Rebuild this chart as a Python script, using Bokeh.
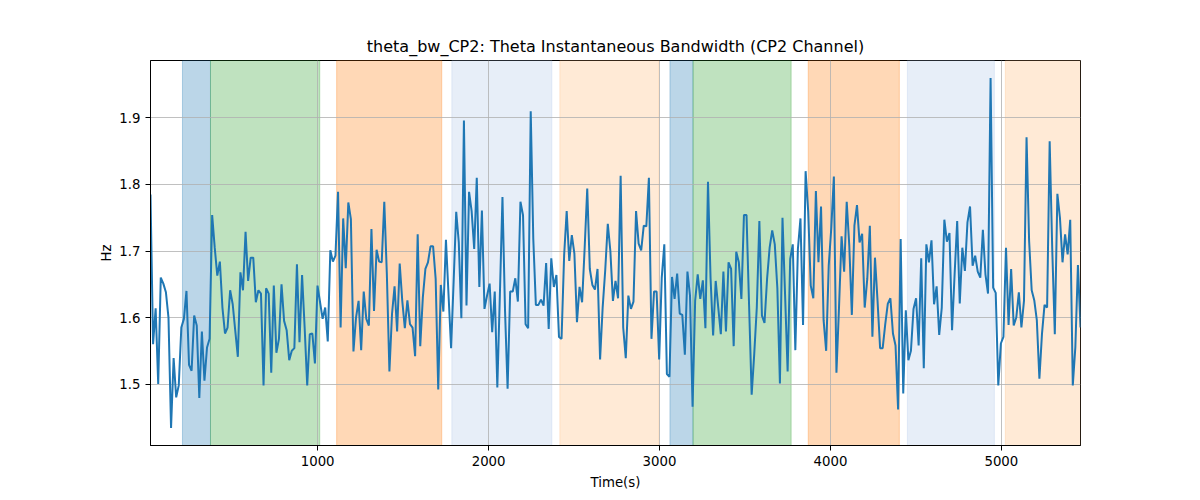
import numpy as np
from bokeh.plotting import figure
from bokeh.models import BoxAnnotation, FixedTicker
from bokeh.embed import file_html
from bokeh.resources import INLINE

# ---- data ----
t_start = 22.0
t_step = 15.03

bw_values = [
    1.785, 1.56, 1.614, 1.50, 1.66, 1.651, 1.638, 1.60, 1.434, 1.539,
    1.48, 1.498, 1.585, 1.598, 1.64, 1.529, 1.52, 1.603, 1.588, 1.479,
    1.579, 1.505, 1.555, 1.568, 1.754, 1.705, 1.663, 1.684, 1.615, 1.576,
    1.585, 1.641, 1.62, 1.58, 1.541, 1.668, 1.641, 1.729, 1.655, 1.69,
    1.69,
    1.623, 1.641, 1.636, 1.498, 1.644, 1.636, 1.517, 1.648, 1.547, 1.568,
    1.65, 1.595, 1.581, 1.536, 1.55, 1.554, 1.68, 1.563, 1.664, 1.585,
    1.498, 1.575, 1.576, 1.531, 1.648, 1.623, 1.598, 1.615, 1.564, 1.701,
    1.684, 1.693, 1.789, 1.585, 1.749, 1.674, 1.773, 1.748, 1.549, 1.60,
    1.625,
    1.551, 1.639, 1.598, 1.588, 1.733, 1.61, 1.702, 1.684, 1.683, 1.774,
    1.665, 1.519, 1.605, 1.647, 1.579, 1.681, 1.625, 1.584, 1.626, 1.59,
    1.585, 1.542, 1.725, 1.557, 1.63, 1.673, 1.683, 1.707, 1.707, 1.658,
    1.492, 1.649, 1.609, 1.717, 1.635, 1.554, 1.655, 1.759, 1.713, 1.599,
    1.896,
    1.618, 1.789, 1.76, 1.703, 1.81, 1.646, 1.761, 1.613, 1.633, 1.651,
    1.578, 1.639, 1.495, 1.635, 1.781, 1.61, 1.493, 1.639, 1.639, 1.659,
    1.624, 1.774, 1.754, 1.59, 1.584, 1.91, 1.718, 1.619, 1.619, 1.627,
    1.618, 1.682, 1.583, 1.689, 1.646, 1.664, 1.571, 1.568, 1.693, 1.76,
    1.685,
    1.724, 1.696, 1.593, 1.646, 1.623, 1.705, 1.794, 1.673, 1.649, 1.642,
    1.673, 1.537, 1.615, 1.671, 1.741, 1.70, 1.625, 1.655, 1.629, 1.813,
    1.585, 1.539, 1.633, 1.613, 1.624, 1.76, 1.711, 1.701, 1.738, 1.737,
    1.81, 1.568, 1.639, 1.639, 1.537, 1.66, 1.71, 1.515, 1.511, 1.661,
    1.628,
    1.666, 1.606, 1.604, 1.544, 1.669, 1.633, 1.466, 1.625, 1.665, 1.628,
    1.656, 1.584, 1.804, 1.659, 1.573, 1.655, 1.615, 1.575, 1.669, 1.579,
    1.683, 1.673, 1.557, 1.699, 1.683, 1.628, 1.754, 1.754, 1.618, 1.484,
    1.545, 1.615, 1.745, 1.603, 1.592, 1.658, 1.705, 1.731, 1.71, 1.644,
    1.501,
    1.75, 1.635, 1.519, 1.688, 1.71, 1.551, 1.703, 1.749, 1.589, 1.82,
    1.76, 1.648, 1.629, 1.79, 1.683, 1.767, 1.596, 1.55, 1.678, 1.735,
    1.812, 1.517, 1.615, 1.722, 1.669, 1.774, 1.708, 1.604, 1.738, 1.769,
    1.713, 1.726, 1.615, 1.658, 1.738, 1.571, 1.69, 1.625, 1.554, 1.554,
    1.59,
    1.621, 1.629, 1.576, 1.558, 1.462, 1.718, 1.486, 1.611, 1.536, 1.55,
    1.613, 1.629, 1.558, 1.689, 1.524, 1.71, 1.683, 1.716, 1.62, 1.647,
    1.574, 1.615, 1.747, 1.714, 1.727, 1.581, 1.665, 1.745, 1.621, 1.705,
    1.67, 1.743, 1.767, 1.678, 1.693, 1.669, 1.66, 1.732, 1.665, 1.636,
    1.96,
    1.645, 1.637, 1.498, 1.561, 1.571, 1.705, 1.589, 1.673, 1.588, 1.60,
    1.638, 1.585, 1.625, 1.871, 1.715, 1.641, 1.626, 1.596, 1.508, 1.575,
    1.619, 1.615, 1.865, 1.703, 1.575, 1.786, 1.75, 1.683, 1.725, 1.695,
    1.747, 1.498, 1.556, 1.679, 1.585,
]

span_start = [209, 373, 1111, 1785, 2417, 3061, 3196, 3870, 4450, 5023]
span_end = [373, 1012, 1726, 2370, 2997, 3196, 3770, 4403, 4959, 5500]
span_colors = ["#1f77b4", "#2ca02c", "#ff7f0e", "#aec7e8", "#ffbb78",
               "#1f77b4", "#2ca02c", "#ff7f0e", "#aec7e8", "#ffbb78"]

x_ticks = [1000, 2000, 3000, 4000, 5000]
y_ticks = [1.5, 1.6, 1.7, 1.8, 1.9]

title_text = "theta_bw_CP2: Theta Instantaneous Bandwidth (CP2 Channel)"
x_label = "Time(s)"
y_label = "Hz"

# ---- build ----
times = t_start + t_step * np.arange(len(bw_values))
vals = np.array(bw_values)
vmin, vmax = vals.min(), vals.max()
pad = 0.05 * (vmax - vmin)

FONT = "DejaVu Sans"

p = figure(width=1200, height=500, output_backend="svg", toolbar_location=None,
           x_range=(times[0], times[-1]), y_range=(vmin - pad, vmax + pad),
           min_border_left=150, min_border_right=120,
           min_border_top=60, min_border_bottom=55,
           title=title_text)

p.title.text_font = FONT
p.title.text_font_size = "16px"
p.title.text_font_style = "normal"
p.title.align = "center"
p.title.standoff = 9
p.title.text_color = "black"

for s, e, c in zip(span_start, span_end, span_colors):
    p.add_layout(BoxAnnotation(left=s, right=e, fill_color=c, fill_alpha=0.3,
                               line_color=c, line_alpha=0.3, line_width=1,
                               level="image"))

p.line(times, vals, line_color="#1f77b4", line_width=2)

p.xaxis.ticker = FixedTicker(ticks=x_ticks)
p.yaxis.ticker = FixedTicker(ticks=y_ticks)
for ax in (p.xaxis[0], p.yaxis[0]):
    ax.major_label_text_font = FONT
    ax.major_label_text_font_size = "13.3px"
    ax.major_label_text_color = "black"
    ax.axis_label_text_font = FONT
    ax.axis_label_text_font_size = "13.3px"
    ax.axis_label_text_font_style = "normal"
    ax.axis_label_text_color = "black"
    ax.major_tick_out = 5
    ax.major_tick_in = 0
    ax.minor_tick_out = 0
    ax.minor_tick_in = 0
    ax.major_label_standoff = 5
    ax.axis_line_color = "black"
    ax.major_tick_line_color = "black"

p.xaxis.axis_label_standoff = 6
p.yaxis.axis_label_standoff = 2
p.xaxis.axis_label = x_label
p.yaxis.axis_label = y_label

p.xgrid.ticker = FixedTicker(ticks=x_ticks)
p.ygrid.ticker = FixedTicker(ticks=y_ticks)
p.grid.grid_line_color = "#b0b0b0"
p.grid.grid_line_width = 0.8

p.outline_line_color = "black"
p.outline_line_width = 1
p.background_fill_color = "white"
p.border_fill_color = "white"

open("out.html", "w").write(file_html(p, INLINE))
